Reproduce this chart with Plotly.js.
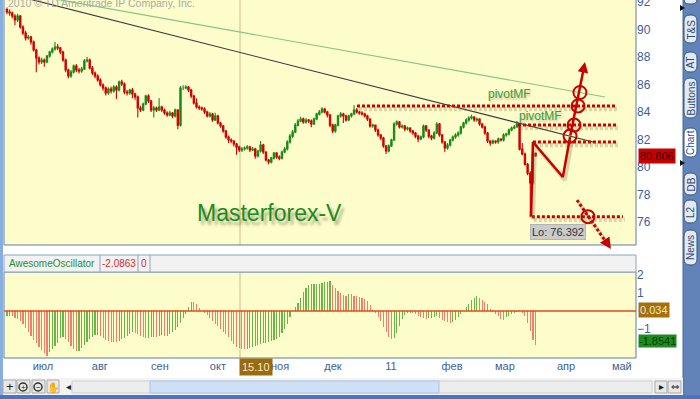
<!DOCTYPE html>
<html><head><meta charset="utf-8">
<script src="https://cdn.plot.ly/plotly-3.0.1.min.js"></script>
<style>html,body{margin:0;padding:0;background:#fff;overflow:hidden}#chart{width:700px;height:399px}</style>
</head><body><div id="chart"></div>
<script>
// ---------- data ----------
const opens = [
91.45,91.27,91.20,90.98,90.69,90.98,90.18,89.75,89.38,89.45,
89.09,88.51,87.93,87.64,87.78,87.64,88.07,88.36,88.58,88.73,
88.65,88.36,87.78,87.05,86.62,86.91,87.35,87.05,86.98,87.13,
87.71,87.78,87.20,86.84,86.62,86.33,85.96,85.75,85.38,85.67,
85.53,85.82,85.60,86.18,86.04,85.45,85.38,85.60,85.31,85.09,
84.29,84.15,84.58,85.16,84.80,84.15,84.29,84.15,84.36,84.15,
83.93,83.78,83.93,83.71,84.15,83.05,85.75,85.75,85.82,85.60,
85.16,84.65,84.36,84.29,84.22,84.00,83.71,83.85,83.42,83.71,
83.20,82.98,82.62,82.18,81.96,81.89,81.67,81.45,81.24,81.31,
81.38,81.45,81.24,81.31,80.80,81.16,81.60,81.09,80.51,80.36,
80.65,81.02,80.73,80.65,81.09,81.31,81.82,82.25,82.55,83.05,
83.35,83.49,83.27,83.42,83.35,83.13,83.49,83.85,84.00,84.22,
84.00,83.78,83.05,82.62,83.05,83.71,83.85,83.71,83.42,83.71,
83.85,84.15,84.00,83.93,83.85,83.71,83.49,82.98,83.05,82.69,
82.33,82.11,81.53,81.16,81.53,81.96,83.13,83.27,82.91,82.98,
82.76,82.84,82.62,82.47,82.25,82.04,82.18,82.98,82.69,82.25,
82.11,82.47,83.13,82.33,81.82,81.38,81.60,81.96,82.18,82.33,
82.47,82.91,83.20,83.42,83.56,83.64,83.42,83.49,83.13,82.91,
82.47,81.89,81.75,81.89,81.82,82.04,81.96,82.33,82.40,82.69,
82.84,82.91,83.13,81.30,80.95,80.20,79.55,78.84,81.00];
const highs = [
91.60,91.45,91.30,91.10,91.15,91.05,90.30,89.90,89.60,89.55,
89.20,88.60,88.05,87.95,87.90,88.15,88.45,88.70,89.10,88.95,
88.75,88.45,87.90,87.15,87.05,87.45,87.50,87.20,87.30,87.85,
88.00,87.90,87.35,86.95,86.75,86.45,86.10,85.85,85.80,85.85,
85.95,85.95,86.30,86.35,86.15,85.60,85.70,85.75,85.40,85.20,
84.45,84.70,85.25,85.30,84.90,84.45,84.40,85.00,84.45,84.25,
84.05,84.10,84.00,84.25,84.20,85.90,85.95,85.95,85.90,85.70,
85.25,85.00,84.50,84.40,84.35,84.10,84.00,83.95,83.95,83.80,
83.30,83.05,82.70,82.30,82.10,81.95,81.75,81.55,81.45,81.50,
81.60,81.55,81.45,81.40,81.25,81.90,81.70,81.15,80.60,80.75,
81.10,81.10,80.85,81.20,81.45,81.95,82.40,82.70,83.20,83.50,
83.65,83.60,83.55,83.50,83.45,83.60,83.95,84.15,84.35,84.30,
84.10,83.85,83.15,83.15,83.80,84.00,83.95,83.80,83.80,83.95,
84.50,84.30,84.10,84.05,83.95,83.80,83.55,83.15,83.10,82.80,
82.40,82.20,81.60,81.65,82.05,83.25,83.40,83.35,83.10,83.05,
82.95,82.90,82.70,82.55,82.35,82.30,83.10,83.05,82.75,82.35,
82.60,83.25,83.20,82.40,81.90,81.75,82.05,82.30,82.45,82.60,
83.00,83.30,83.55,83.70,83.80,83.70,83.60,83.55,83.20,83.00,
82.55,81.95,82.00,81.95,82.15,82.10,82.45,82.50,82.80,82.95,
83.05,83.35,83.20,81.75,81.05,80.30,79.70,81.20,81.05];
const lows = [
91.10,91.00,90.80,90.30,90.55,90.05,89.60,89.20,89.25,88.90,
88.40,86.90,87.45,87.50,87.30,87.55,87.95,88.25,88.45,88.50,
88.20,87.65,86.90,86.45,86.50,86.80,86.90,86.80,86.85,87.05,
87.60,87.10,86.70,86.45,86.20,85.85,85.55,85.20,85.25,85.35,
85.40,84.95,85.50,85.90,85.30,85.20,85.25,85.00,84.90,83.60,
84.00,84.05,84.50,84.65,84.00,83.60,84.00,84.05,84.00,83.80,
83.65,83.70,83.55,83.60,82.75,82.95,85.60,85.65,85.45,85.00,
84.55,84.25,84.15,84.10,83.85,83.60,83.60,83.30,83.35,83.10,
82.85,82.50,82.05,81.75,81.75,81.50,80.90,81.10,81.10,81.20,
81.25,81.10,81.15,80.60,80.70,81.05,80.95,80.40,80.20,80.25,
80.55,80.60,80.50,80.55,81.00,81.20,81.70,82.10,82.45,82.95,
83.25,83.15,83.15,83.20,82.90,83.05,83.40,83.75,83.90,83.90,
83.60,82.90,82.45,82.50,82.95,83.60,83.20,83.30,83.35,83.60,
83.80,83.90,83.80,83.75,83.60,83.35,82.85,82.85,82.55,82.20,
81.95,81.40,80.95,81.05,81.45,81.90,83.00,82.80,82.80,82.60,
82.65,82.50,82.35,82.10,81.80,81.95,82.10,82.55,82.10,81.95,
82.00,82.40,82.20,81.70,81.10,81.25,81.50,81.85,82.05,82.20,
82.35,82.80,83.10,83.30,83.45,83.30,83.30,83.00,82.80,82.35,
81.75,81.55,81.65,81.70,81.70,81.85,81.85,82.20,82.30,82.60,
82.75,82.85,81.20,80.85,80.10,79.40,76.39,78.70,80.75];
const closes = [
91.27,91.20,90.98,90.69,90.98,90.18,89.75,89.38,89.45,89.09,
88.51,87.93,87.64,87.78,87.64,88.07,88.36,88.58,88.73,88.65,
88.36,87.78,87.05,86.62,86.91,87.35,87.05,86.98,87.13,87.71,
87.78,87.20,86.84,86.62,86.33,85.96,85.75,85.38,85.67,85.53,
85.82,85.60,86.18,86.04,85.45,85.38,85.60,85.31,85.09,84.29,
84.15,84.58,85.16,84.80,84.15,84.29,84.15,84.36,84.15,83.93,
83.78,83.93,83.71,84.15,83.05,85.75,85.75,85.82,85.60,85.16,
84.65,84.36,84.29,84.22,84.00,83.71,83.85,83.42,83.71,83.20,
82.98,82.62,82.18,81.96,81.89,81.67,81.45,81.24,81.31,81.38,
81.45,81.24,81.31,80.80,81.16,81.60,81.09,80.51,80.36,80.65,
81.02,80.73,80.65,81.09,81.31,81.82,82.25,82.55,83.05,83.35,
83.49,83.27,83.42,83.35,83.13,83.49,83.85,84.00,84.22,84.00,
83.78,83.05,82.62,83.05,83.71,83.85,83.71,83.42,83.71,83.85,
84.15,84.00,83.93,83.85,83.71,83.49,82.98,83.05,82.69,82.33,
82.11,81.53,81.16,81.53,81.96,83.13,83.27,82.91,82.98,82.76,
82.84,82.62,82.47,82.25,82.04,82.18,82.98,82.69,82.25,82.11,
82.47,83.13,82.33,81.82,81.38,81.60,81.96,82.18,82.33,82.47,
82.91,83.20,83.42,83.56,83.64,83.42,83.49,83.13,82.91,82.47,
81.89,81.75,81.89,81.82,82.04,81.96,82.33,82.40,82.69,82.84,
82.91,83.13,81.30,80.95,80.20,79.55,78.84,81.00,80.81];
const aoValues = [
-0.30,-0.25,-0.28,-0.38,-0.46,-0.55,-0.72,-0.92,-1.18,-1.40,
-1.60,-1.78,-2.00,-2.17,-2.32,-2.48,-2.30,-2.12,-1.95,-1.75,
-1.52,-1.46,-1.55,-1.72,-1.95,-2.10,-2.24,-2.20,-2.05,-1.90,
-1.70,-1.53,-1.42,-1.35,-1.32,-1.40,-1.52,-1.62,-1.68,-1.70,
-1.71,-1.72,-1.66,-1.57,-1.48,-1.38,-1.25,-1.15,-1.20,-1.28,
-1.40,-1.47,-1.52,-1.48,-1.44,-1.43,-1.47,-1.40,-1.34,-1.37,
-1.36,-1.28,-1.17,-1.05,-0.88,-0.68,-0.40,-0.18,0.20,0.52,
0.50,0.40,0.18,0.02,-0.10,-0.23,-0.40,-0.58,-0.70,-0.84,
-0.98,-1.16,-1.28,-1.47,-1.68,-1.85,-1.98,-2.06,-2.09,-2.11,
-2.10,-2.03,-1.98,-1.93,-1.88,-1.85,-1.80,-1.75,-1.72,-1.68,
-1.63,-1.57,-1.46,-1.24,-0.98,-0.74,-0.31,0.02,0.20,0.45,
0.74,1.05,1.30,1.44,1.49,1.50,1.50,1.53,1.57,1.60,
1.63,1.67,1.46,1.28,1.12,0.98,0.89,0.83,0.96,0.92,
0.86,0.82,0.79,0.72,0.66,0.55,0.34,0.07,-0.12,-0.32,
-0.55,-0.90,-1.18,-1.42,-1.58,-1.52,-1.20,-0.85,-0.42,-0.20,
-0.12,-0.09,-0.12,-0.18,-0.26,-0.33,-0.40,-0.42,-0.40,-0.36,
-0.31,-0.30,-0.38,-0.48,-0.55,-0.62,-0.65,-0.60,-0.48,-0.32,
-0.18,-0.02,0.20,0.40,0.62,0.74,0.83,0.72,0.63,0.52,
0.40,0.14,-0.04,-0.15,-0.30,-0.42,-0.50,-0.35,-0.25,-0.16,
-0.10,-0.04,0.05,-0.10,-0.30,-0.65,-1.10,-1.62,-1.89];

const monthTickPos  = [13.5, 34.8, 57.3, 79.0, 102.3, 122.1, 143.8, 166.7, 186.5, 209.4, 230.3];
const monthTickText = ['июл','авг','сен','окт','ноя','дек','11','фев','мар','апр','май'];
const priceTicks = [76,78,80,82,84,86,88,90,92];
const aoTicks = [-1,1,2];

// drawings (bar index, price)
const pivotLevels = [84.44, 83.05, 81.82];
const pivotStart  = [131.1, 191.4, 197.0];
const pivotEnd    = [228.5, 228.8, 228.8];
const lowLevel = 76.392, lowStart = 196.6, lowEnd = 230.7;
const greenTrendIdx = [10, 224],  greenTrendPrice = [92.49, 85.09];
const blackTrendIdx = [0, 219.5], blackTrendPrice = [92.63, 81.82];
const forecastIdx   = [196.3, 197.0, 208.2, 210.9];
const forecastPrice = [76.392, 81.82, 79.27, 82.18];
const arrowUpTip = [216.5, 87.64];
const circleIdx   = [210.9, 212.4, 213.9, 214.6, 217.6];
const circlePrice = [82.25, 83.05, 84.44, 85.42, 76.39];
const downArrowIdx = [213.5, 226.2], downArrowPrice = [77.6, 74.04];
const pivotLabelIdx = [188.4, 200.0], pivotLabelPrice = [85.31, 83.71];
const lastPrice = 80.806, aoHeader = -2.0863, aoMark1 = 0.034, aoMark2 = -1.8541;
const cursorIdx = 87.3, cursorLabel = '15.10';

// ---------- helpers ----------
const PX = x => (x - 4) / 632, PY = y => (358 - y) / 358;
const idx = opens.map((_, i) => i);
const RED = '#c80000';
const aoColors = aoValues.map((v, i) => (i === 0 || v >= aoValues[i - 1]) ? '#69b548' : '#f0806c');
const shX = 0.75, shY = -0.22, SHADOW = 'rgba(120,120,80,0.28)';

function rrect(x0, y0, x1, y1, r) {
  const p = (x, y) => PX(x) + ',' + PY(y);
  return `M${p(x0 + r, y0)} L${p(x1 - r, y0)} Q${p(x1, y0)} ${p(x1, y0 + r)} L${p(x1, y1 - r)} Q${p(x1, y1)} ${p(x1 - r, y1)} L${p(x0 + r, y1)} Q${p(x0, y1)} ${p(x0, y1 - r)} L${p(x0, y0 + r)} Q${p(x0, y0)} ${p(x0 + r, y0)} Z`;
}
function prect(x0, y0, x1, y1, fill, line, lw) {
  return {type: 'rect', xref: 'paper', yref: 'paper', x0: PX(x0), x1: PX(x1), y0: PY(y1), y1: PY(y0),
    fillcolor: fill || 'rgba(0,0,0,0)', line: {color: line || 'rgba(0,0,0,0)', width: lw === undefined ? 1 : lw}, layer: 'above'};
}
function pline(x0, y0, x1, y1, color, w) {
  return {type: 'line', xref: 'paper', yref: 'paper', x0: PX(x0), x1: PX(x1), y0: PY(y0), y1: PY(y1),
    line: {color: color, width: w || 1}, layer: 'above'};
}
const F = 'Liberation Sans, Arial, sans-serif';
function ptext(x, y, text, size, color, extra) {
  return Object.assign({xref: 'paper', yref: 'paper', x: PX(x), y: PY(y), text: text, showarrow: false,
    xanchor: 'center', yanchor: 'middle', font: {family: F, size: size, color: color}}, extra || {});
}

// ---------- traces ----------
const traces = [];
traces.push({type: 'candlestick', x: idx, open: opens, high: highs, low: lows, close: closes,
  xaxis: 'x', yaxis: 'y', whiskerwidth: 0, hoverinfo: 'skip',
  increasing: {line: {color: '#168a16', width: 1.1}, fillcolor: '#168a16'},
  decreasing: {line: {color: '#d20000', width: 1.1}, fillcolor: '#d20000'}});
traces.push({type: 'bar', x: idx, y: aoValues, xaxis: 'x', yaxis: 'y2', width: 0.42,
  marker: {color: aoColors, line: {width: 0}}, hoverinfo: 'skip'});

function line(xs, ys, color, width, dash, shadow) {
  if (shadow) traces.push({type: 'scatter', mode: 'lines', x: xs.map(v => v + shX), y: ys.map(v => v + shY),
    xaxis: 'x', yaxis: 'y', line: {color: SHADOW, width: width + 1.5, dash: dash || 'solid'}, hoverinfo: 'skip'});
  traces.push({type: 'scatter', mode: 'lines', x: xs, y: ys, xaxis: 'x', yaxis: 'y',
    line: {color: color, width: width, dash: dash || 'solid'}, hoverinfo: 'skip'});
}
line(greenTrendIdx, greenTrendPrice, '#86c486', 1.2, null, false);
line(blackTrendIdx, blackTrendPrice, '#3a3a3a', 1.2, null, false);
pivotLevels.forEach((lv, k) => line([pivotStart[k], pivotEnd[k]], [lv, lv], RED, 3, '3px,2px', true));
line([lowStart, lowEnd], [lowLevel, lowLevel], RED, 3, '3px,2px', true);
line(forecastIdx, forecastPrice, RED, 2.5, null, true);
line(downArrowIdx, downArrowPrice, RED, 3, '3px,2px', true);

// ---------- shapes ----------
const shapes = [];
shapes.push({type: 'line', xref: 'x', yref: 'paper', x0: cursorIdx, x1: cursorIdx, y0: PY(245), y1: 1, line: {color: '#c9bb92', width: 1}, layer: 'below'});
shapes.push({type: 'line', xref: 'x', yref: 'paper', x0: cursorIdx, x1: cursorIdx, y0: 0, y1: PY(272), line: {color: '#c9bb92', width: 1}, layer: 'below'});
shapes.push({type: 'line', xref: 'paper', yref: 'y2', x0: 0, x1: 1, y0: 0, y1: 0, line: {color: '#e4471c', width: 1.5}, layer: 'above'});
circleIdx.forEach((ci, k) => shapes.push({type: 'circle', xref: 'x', yref: 'y', xsizemode: 'pixel', ysizemode: 'pixel',
  xanchor: ci, yanchor: circlePrice[k], x0: -6.5, x1: 6.5, y0: -6.5, y1: 6.5, line: {color: RED, width: 2}, layer: 'above'}));
shapes.push(pline(636, 0, 636, 245, '#5c7ca6', 1));
shapes.push(pline(4, 245, 636, 245, '#5c7ca6', 1));
shapes.push(pline(4, 0, 4, 245, '#5c7ca6', 1));
shapes.push(prect(4, 272, 636, 358, null, '#5c7ca6', 1));
shapes.push(prect(4, 255, 636, 272, '#f2f2f2', '#8ea4c2', 1));
[100, 138, 150].forEach(x => shapes.push(pline(x, 255, x, 272, '#8ea4c2', 1)));
shapes.push(prect(0, 0, 3, 399, '#86aee0', null, 0));
shapes.push(prect(683, 0, 700, 399, '#6283b7', null, 0));
shapes.push(pline(683, 0, 683, 395, '#4a6a9c', 1));
shapes.push(prect(3, 378, 683, 395, '#f3f3f3', null, 0));
[[3, 16], [17, 30], [32, 45], [47, 59]].forEach(b => shapes.push(prect(b[0], 380, b[1], 393, '#e8e8e8', '#a9a9a9', 1)));
shapes.push({type: 'circle', xref: 'paper', yref: 'paper', x0: PX(19), x1: PX(27), y0: PY(391), y1: PY(383), line: {color: '#333', width: 1.5}, layer: 'above'});
shapes.push({type: 'circle', xref: 'paper', yref: 'paper', x0: PX(34), x1: PX(42), y0: PY(391), y1: PY(383), line: {color: '#333', width: 1.5}, layer: 'above'});
shapes.push(prect(72, 381, 652, 393, '#ededed', '#cfcfcf', 1));
shapes.push(prect(150, 381, 439, 393, '#cfe0f6', '#aac4e6', 1));
shapes.push(prect(655, 381, 667, 393, '#e8e8e8', '#a9a9a9', 1));
shapes.push(prect(668, 381, 681, 393, '#e8e8e8', '#a9a9a9', 1));
shapes.push(prect(0, 395, 700, 399, '#4676c2', null, 0));
const tabs = [['T&S', 15, 43], ['AT', 52, 72], ['Buttons', 78, 118], ['Chart', 128, 157], ['DB', 173, 195], ['L2', 200, 223], ['News', 230, 265]];
shapes.push({type: 'path', xref: 'paper', yref: 'paper', path: rrect(684, -8, 697, 4, 5), fillcolor: '#e3eaf4', line: {color: '#35557f', width: 1}, layer: 'above'});
tabs.forEach(t => shapes.push({type: 'path', xref: 'paper', yref: 'paper', path: rrect(684, t[1], 697, t[2], 6),
  fillcolor: t[0] === 'Chart' ? '#ffffff' : '#e3eaf4', line: {color: '#35557f', width: 1}, layer: 'above'}));
shapes.push({type: 'path', xref: 'paper', yref: 'paper', path: `M${PX(680)},${PY(5)} L${PX(685)},${PY(8)} L${PX(680)},${PY(11)} Z`, fillcolor: '#111', line: {width: 0}, layer: 'above'});
shapes.push({type: 'path', xref: 'paper', yref: 'paper', path: `M${PX(680)},${PY(160)} L${PX(685)},${PY(163)} L${PX(680)},${PY(166)} Z`, fillcolor: '#111', line: {width: 0}, layer: 'above'});

// ---------- annotations ----------
const ann = [];
ann.push(ptext(6, 3, '2010 © TD Ameritrade IP Company, Inc.', 10.5, '#a9a9a9', {xanchor: 'left'}));
ann.push(ptext(269, 213, 'Masterforex-V', 23, '#1d8b22',
  {font: {family: F, size: 23, color: '#1d8b22', shadow: '3px 4px 3px rgba(70,70,40,0.45)'}}));
pivotLabelIdx.forEach((pi, k) => ann.push({xref: 'x', yref: 'y', x: pi, y: pivotLabelPrice[k], text: 'pivotMF', showarrow: false,
  font: {family: F, size: 12, color: '#3c9a3c', shadow: '1px 2px 2px rgba(90,90,60,0.35)'}}));
ann.push({xref: 'x', yref: 'y', x: 196, y: lowLevel, xanchor: 'left', yanchor: 'top', yshift: -7, xshift: 0,
  text: 'Lo: ' + lowLevel.toFixed(3), showarrow: false, bgcolor: '#cbcbcb', bordercolor: '#b4b4b4', borderpad: 1,
  font: {family: F, size: 11, color: '#333'}});
ann.push({xref: 'x', yref: 'y', x: arrowUpTip[0], y: arrowUpTip[1], axref: 'x', ayref: 'y',
  ax: forecastIdx[3], ay: forecastPrice[3], showarrow: true, arrowhead: 2, arrowsize: 0.85, arrowwidth: 2.5, arrowcolor: RED, standoff: 0, text: ''});
ann.push({xref: 'x', yref: 'y', x: downArrowIdx[1], y: downArrowPrice[1], axref: 'x', ayref: 'y',
  ax: 224.0, ay: 74.69, showarrow: true, arrowhead: 2, arrowsize: 0.9, arrowwidth: 2.5, arrowcolor: RED, standoff: 0, text: ''});
ann.push({xref: 'paper', yref: 'y', x: 1, y: lastPrice, xanchor: 'left', xshift: 2, text: lastPrice.toFixed(3), showarrow: false,
  bgcolor: '#c80000', borderpad: 1, font: {family: F, size: 11, color: '#3a0000'}});
ann.push({xref: 'paper', yref: 'y2', x: 1, y: aoMark1, xanchor: 'left', xshift: 2, text: aoMark1.toFixed(3), showarrow: false,
  bgcolor: '#a4700e', borderpad: 1, font: {family: F, size: 11, color: '#f4e4c0'}});
ann.push({xref: 'paper', yref: 'y2', x: 1, y: aoMark2, xanchor: 'left', xshift: 2, yshift: 3, text: aoMark2.toFixed(4), showarrow: false,
  bgcolor: '#1c8c1c', borderpad: 0, font: {family: F, size: 11, color: '#0b3a0b'}});
ann.push(ptext(52, 263.5, 'AwesomeOscillator', 10, '#2e8b2e'));
ann.push(ptext(119, 263.5, aoHeader.toFixed(4), 10, '#d03030'));
ann.push(ptext(144, 263.5, '0', 10, '#d03030'));
ann.push({xref: 'x', yref: 'paper', x: cursorIdx, y: PY(367), xanchor: 'left', yanchor: 'middle', xshift: -1, text: cursorLabel,
  showarrow: false, bgcolor: '#9a6a0c', borderpad: 2, font: {family: F, size: 11, color: '#f6ead0'}});
tabs.forEach(t => ann.push(ptext(690.5, (t[1] + t[2]) / 2, t[0], 10, t[0] === 'Chart' ? '#1f4f9c' : '#34496e', {textangle: -90})));
ann.push(ptext(9.5, 386.5, '+', 13, '#222'));
ann.push(ptext(23, 387, '+', 8, '#222'));
ann.push(ptext(38, 387, '−', 8, '#222'));
ann.push(ptext(53, 386.5, '✋', 10, '#333', {font: {family: 'DejaVu Sans', size: 10, color: '#333'}}));
ann.push(ptext(68, 386.5, '◂', 10, '#222', {font: {family: 'DejaVu Sans', size: 10, color: '#222'}}));
ann.push(ptext(661, 386.5, '▸', 10, '#222', {font: {family: 'DejaVu Sans', size: 10, color: '#222'}}));
ann.push(ptext(674.5, 386.5, '⇔', 10, '#222', {font: {family: 'DejaVu Sans', size: 10, color: '#222'}}));

// ---------- layout ----------
const axFont = {family: F, size: 12, color: '#3d5e98'};
const layout = {
  width: 700, height: 399, margin: {l: 4, r: 64, t: 0, b: 41},
  paper_bgcolor: '#ffffff', plot_bgcolor: '#fdfdcb', showlegend: false, hovermode: false, bargap: 0,
  xaxis: {domain: [0, 1], range: [-1.1, 235.6], anchor: 'y2', tickmode: 'array', tickvals: monthTickPos, ticktext: monthTickText,
    showgrid: false, zeroline: false, showline: false, ticks: '', tickfont: {family: F, size: 11, color: '#3d5e98'},
    rangeslider: {visible: false}, fixedrange: true, automargin: false},
  yaxis: {domain: [PY(245), 1], range: [74.33, 92.145], side: 'right', anchor: 'x', tickmode: 'array', tickvals: priceTicks,
    showgrid: false, zeroline: false, ticks: '', tickfont: axFont, automargin: false, ticklabeloverflow: 'allow'},
  yaxis2: {domain: [0, PY(272)], range: [-2.61, 2.17], side: 'right', anchor: 'x', tickmode: 'array', tickvals: aoTicks,
    showgrid: false, zeroline: false, ticks: '', tickfont: axFont, automargin: false},
  shapes: shapes, annotations: ann
};
Plotly.newPlot('chart', traces, layout, {displayModeBar: false, staticPlot: true});
</script></body></html>
